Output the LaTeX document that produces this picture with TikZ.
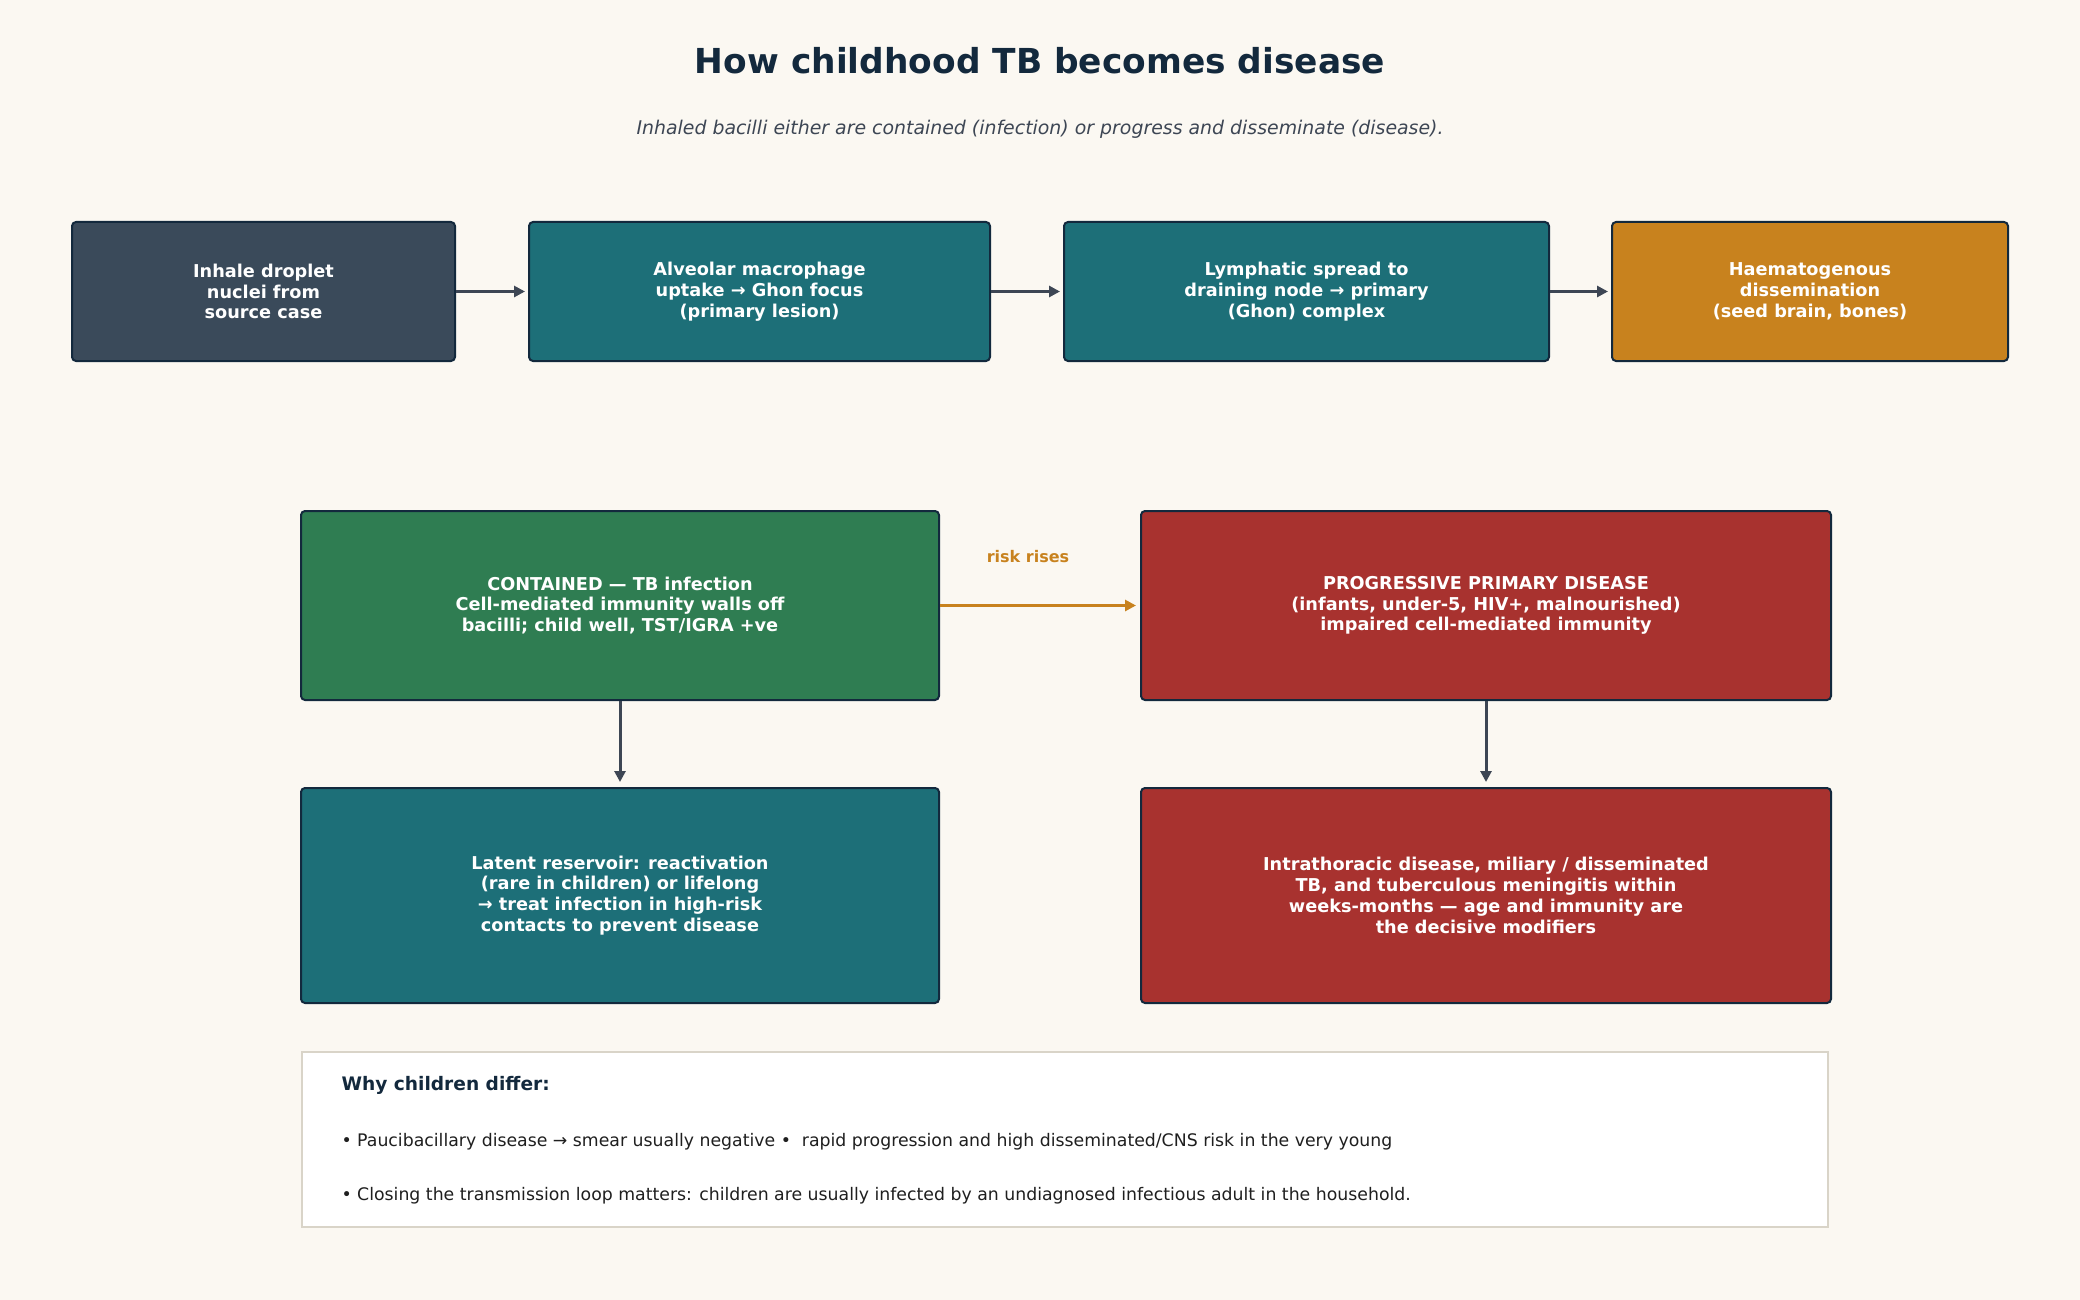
\documentclass[tikz,border=0pt]{standalone}
\usepackage{fontspec}
\setmainfont{DejaVu Sans}
\usetikzlibrary{arrows.meta}
\definecolor{fondo}{HTML}{FBF8F2}
\definecolor{tinta}{HTML}{13293D}
\definecolor{gris}{HTML}{3D4654}
\definecolor{pizarra}{HTML}{3A4A5A}
\definecolor{azulverde}{HTML}{1D6F78}
\definecolor{naranja}{HTML}{C8821E}
\definecolor{verde}{HTML}{2F7D52}
\definecolor{rojo}{HTML}{A8322F}
\definecolor{borde}{HTML}{D9D4C8}

\begin{document}
\begin{tikzpicture}[x=1pt, y=-1pt,
caja/.style = {draw = tinta, line width = 2pt, rounded corners = 4pt, text = white,
  font = \fontsize{17.7}{20.8}\selectfont\bfseries, align = center, inner sep = 0pt},
flecha/.style = {draw = gris, line width = 3pt, -{Triangle[length = 11pt, width = 11pt]}},
nota/.style = {anchor = west, text = black!88, font = \fontsize{17.3}{20}\selectfont}
]

% fondo y marco
\fill[fondo] (0,0) rectangle (2080,1300);
\useasboundingbox (0,0) rectangle (2080,1300);

\node (titulo) at (1040,61) {\fontsize{34.4}{40}\selectfont\bfseries\color{tinta} How childhood TB becomes disease};
\node (sub) at (1040,129) {\fontsize{18.9}{22}\selectfont\itshape\color{gris} Inhaled bacilli either are contained (infection) or progress and disseminate (disease).};

% fila de arriba
\node[caja, fill = pizarra, minimum width = 383pt, minimum height = 139pt] (inhale) at (263.5,291.5)
	{Inhale droplet\\nuclei from\\source case};
\node[caja, fill = azulverde, minimum width = 461pt, minimum height = 139pt] (alveolar) at (759.5,291.5)
	{Alveolar macrophage\\uptake → Ghon focus\\(primary lesion)};
\node[caja, fill = azulverde, minimum width = 485pt, minimum height = 139pt] (lymph) at (1306.5,291.5)
	{Lymphatic spread to\\draining node → primary\\(Ghon) complex};
\node[caja, fill = naranja, minimum width = 396pt, minimum height = 139pt] (haemato) at (1810,291.5)
	{Haematogenous\\dissemination\\(seed brain, bones)};

% dos caminos
\node[caja, fill = verde, minimum width = 638pt, minimum height = 189pt] (contained) at (620,605.5)
	{CONTAINED — TB infection\\Cell-mediated immunity walls off\\bacilli; child well, TST/IGRA +ve};
\node[caja, fill = rojo, minimum width = 690pt, minimum height = 189pt] (progressive) at (1486,605.5)
	{PROGRESSIVE PRIMARY DISEASE\\(infants, under-5, HIV+, malnourished)\\impaired cell-mediated immunity};
\node[caja, fill = azulverde, minimum width = 638pt, minimum height = 215pt] (latent) at (620,895.5)
	{Latent reservoir: reactivation\\(rare in children) or lifelong\\→ treat infection in high-risk\\contacts to prevent disease};
\node[caja, fill = rojo, minimum width = 690pt, minimum height = 215pt] (intra) at (1486,895.5)
	{Intrathoracic disease, miliary / disseminated\\TB, and tuberculous meningitis within\\weeks-months — age and immunity are\\the decisive modifiers};

\draw[flecha] (inhale.east) -- ([xshift = -3pt]alveolar.west);
\draw[flecha] (alveolar.east) -- ([xshift = -3pt]lymph.west);
\draw[flecha] (lymph.east) -- ([xshift = -3pt]haemato.west);
\draw[flecha] (contained.south) -- ([yshift = 5pt]latent.north);
\draw[flecha] (progressive.south) -- ([yshift = 5pt]intra.north);
\draw[flecha, draw = naranja] (contained.east) -- node[above = 38pt, xshift = -10pt, text = naranja,
	font = \fontsize{16}{18}\selectfont\bfseries] (riesgo) {risk rises} ([xshift = -4pt]progressive.west);

% recuadro de abajo
\node[draw = borde, fill = white, line width = 1.5pt, minimum width = 1526pt, minimum height = 175pt,
	inner sep = 0pt] (why) at (1065,1139.5) {};
\node[nota, text = tinta, font = \fontsize{18.6}{21}\selectfont\bfseries] (whyhead) at (338,1085) {Why children differ:};
\node[nota] (whyone) at (338,1142) {• Paucibacillary disease → smear usually negative •\ \ rapid progression and high disseminated/CNS risk in the very young};
\node[nota] (whytwo) at (338,1196) {• Closing the transmission loop matters: children are usually infected by an undiagnosed infectious adult in the household.};
\end{tikzpicture}
\end{document}
